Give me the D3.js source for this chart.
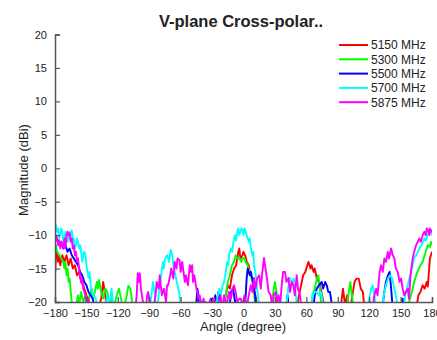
<!DOCTYPE html>
<html lang="en">
<head>
  <meta charset="UTF-8">
  <script src="https://d3js.org/d3.v7.min.js"></script>
  <style>
    body { margin: 0; background: #fff; }
    svg { display: block; }
    text { font-family: "Liberation Sans", Arial, sans-serif; fill: #222; }
  </style>
</head>
<body>
<div id="chart"></div>
<script>
  // angle (degree), magnitude (dBi); values under -20 fall off the axis
  const s5150 = [[-180,-16],[-179,-13],[-178,-12.5],[-177,-14],[-176,-13],[-175,-14.5],[-173,-13],[-171,-14],[-169,-13],[-167,-14.5],[-165,-13.5],[-163,-15],[-161,-14.5],[-159,-16],[-157,-15.5],[-155,-17],[-153,-17.5],[-151,-18.5],[-149,-19.5],[-147,-22],[-140,-22],[-136,-19.5],[-134,-17],[-132,-19],[-130,-22],
    [-20,-22],[-17,-19],[-15,-17.5],[-13,-18],[-11,-16],[-9,-15],[-7,-14.5],[-5,-12.5],[-4,-12],[-3,-13.5],[-1,-13],[0,-12.5],[2,-13.2],[3,-14],[5,-14.5],[6,-15.5],[8,-16.4],[10,-18],[12,-19.5],[14,-22],
    [50,-22],[53,-19],[55,-17.5],[57,-16],[59,-15.5],[61,-14.5],[62,-14],[64,-15],[65,-14.5],[67,-15.5],[68,-15],[70,-16.5],[72,-17],[73,-17.5],[75,-19],[77,-20.5],[80,-22],
    [92,-22],[95,-18],[97,-20.5],[99,-19],[101,-22],[104,-19],[106,-17],[108,-16.5],[110,-16.5],[112,-18],[114,-18.5],[116,-22],
    [160,-22],[165,-21],[167,-19],[169,-18.5],[171,-17.5],[173,-18],[175,-17],[176,-17.7],[178,-13.5],[180,-12.5]];

  const s5300 = [[-180,-12],[-179,-11.5],[-178,-12.5],[-176,-13],[-174,-13.5],[-172,-14],[-171,-15],[-170,-14],[-169,-16],[-168,-15],[-167,-17],[-166,-16.5],[-165,-18.5],[-164,-20],[-163,-21],[-160,-20.5],[-158,-19],[-157,-20.5],[-155,-18.5],[-153,-20],[-151,-19],[-149,-20.5],[-147,-19],[-145,-18],[-144,-19.5],[-142,-18.5],[-140,-17],[-139,-18],[-138,-16.7],[-136,-18.5],[-134,-19.5],[-132,-18],[-130,-18.5],[-128,-20.5],[-126,-19.5],[-124,-21],[-121,-19],[-119,-18],[-117,-19.5],[-115,-21],[-112,-19.5],[-110,-17.6],[-108,-18],[-106,-20.5],[-104,-22],
    [-20,-22],[-17,-19],[-15,-17],[-13,-16],[-11,-14.5],[-9,-14],[-7.5,-13],[-6,-13.5],[-4,-13.4],[-2,-14],[-1,-13.5],[1,-13.4],[2,-14],[4,-14.5],[5,-15.2],[7,-16],[8.5,-17],[10,-18.5],[12,-22],
    [26,-22],[28,-19],[30,-17],[32,-19],[34,-22],
    [64,-22],[66,-19],[68,-18],[70,-16.5],[71.5,-16],[73,-18],[75,-22],
    [98,-22],[100,-19],[102,-17],[104,-19.5],[106,-22],
    [155,-22],[158,-20],[160,-19],[163,-17],[166,-15.5],[169,-14.5],[171,-14],[173,-13],[175,-12],[176,-11.5],[178,-11.8],[179,-11],[180,-11.5]];

  const s5500 = [[-180,-11],[-178,-10.5],[-176,-11.5],[-174,-11],[-172,-12],[-170,-11.5],[-168,-12.5],[-166,-12],[-164,-13],[-162,-13.5],[-160,-14],[-158,-14.5],[-156,-15.5],[-154,-16],[-152,-17],[-150,-17.5],[-148,-18.5],[-146,-19],[-144,-19.5],[-142,-21],[-138,-22],
    [-46,-22],[-44,-18],[-42,-21],
    [-33,-22],[-31,-19.5],[-29,-21],[-27,-19],[-25,-20.5],[-24,-18.5],[-22,-20],[-20,-22],
    [-14,-22],[-12,-18.5],[-10,-18],[-8,-20],[-6,-22],[1,-22],[3,-16.5],[4,-15],[6,-16],[7,-15.5],[9,-17],[11,-19],[13,-22],
    [40,-22],[42,-19],[44,-22],
    [66,-22],[68,-19],[70,-18],[72,-17.5],[74.7,-17],[76,-18],[78,-17],[79.5,-17.5],[81,-18.5],[82.6,-18.5],[84,-20],[86,-22],
    [132,-22],[134,-19],[136,-17],[138,-16],[139.5,-15.5],[141,-18],[143,-22],
    [150,-22],[152,-19.5],[154,-22],[180,-22]];

  const s5700 = [[-180,-9],[-179,-8.5],[-178,-9.5],[-177,-9],[-176,-10.5],[-175,-10],[-174,-9],[-173,-9.5],[-172,-11],[-171,-10.5],[-170,-9.5],[-169,-10],[-168,-11],[-167,-10.5],[-166,-9.5],[-165,-10],[-164,-9.3],[-163,-11],[-162,-10.5],[-161,-12],[-160,-11.5],[-159,-10.5],[-158,-11],[-157,-12],[-156,-11.5],[-155,-12.5],[-154,-14],[-153,-13],[-152,-12.5],[-151,-13],[-150,-14.5],[-149,-15.5],[-148,-16.4],[-147,-15.5],[-146,-17.5],[-144.7,-18.5],[-143,-19],[-141,-19.5],[-139,-21],[-134,-22],[-130,-19],[-128,-20.5],[-126,-18],[-124,-21],[-118,-22],
    [-90,-22],[-88,-19],[-86.4,-17],[-85,-18.5],[-83,-22],[-81,-19],[-79,-16.5],[-77,-14],[-76,-15],[-75,-13.5],[-73,-13],[-71,-14],[-69.5,-12.2],[-68,-13],[-67,-14.5],[-65,-16],[-63,-17.5],[-61,-19],[-59,-22],
    [-27,-22],[-25,-19.5],[-23,-18],[-21.7,-19],[-20,-17.5],[-18.6,-17],[-17,-15.5],[-15.5,-14],[-14.5,-14.5],[-13.8,-13],[-12,-12],[-11,-12.5],[-10,-11.5],[-9,-10.5],[-8,-10],[-7,-10.8],[-6,-9.5],[-5,-9],[-4,-10],[-3,-9.5],[-2,-9],[-1,-9.2],[0,-10],[1,-9],[2,-9.4],[3,-10],[4,-10.5],[5.3,-11],[6,-10.5],[7,-12],[8.5,-13],[9.3,-12.5],[10,-14.5],[11.7,-16],[13,-18],[15,-20.5],[17,-22],
    [40,-22],[42,-19],[44,-16.4],[46,-17],[48,-16.5],[50,-19],[52,-22],
    [64,-22],[66,-19],[68,-18.5],[70,-18.5],[72,-19],[74,-18.5],[76,-20.5],[78,-22],
    [118,-22],[120,-19.5],[122,-18],[123.5,-17.5],[125,-19],[127,-22],[132,-22],[134,-19],[136,-17.5],[138,-16.5],[140,-16],[142,-16.5],[144,-18],[146,-19.5],[148,-22],
    [152,-22],[154,-19.5],[156,-18],[158.5,-16.4],[160,-15.5],[161.5,-14.5],[163,-13.4],[165,-13],[166.5,-12.5],[168,-12],[170,-11.5],[171.5,-11],[172.7,-10.5],[174,-10.8],[175.5,-10],[177.5,-9.5],[179,-9.5],[180,-10]];

  const s5875 = [[-180,-11],[-179,-10],[-178,-10.5],[-177,-11.5],[-176,-10.8],[-175,-12],[-174,-11],[-173,-11.5],[-172,-12],[-171,-10.5],[-170,-12],[-169,-10],[-168,-9.5],[-167,-10],[-166,-9.7],[-165,-11],[-164,-10.5],[-163,-12],[-162,-11.5],[-161,-13],[-160,-12.5],[-159,-14],[-158,-13.5],[-157,-15],[-156,-16],[-155,-17],[-154,-16.5],[-153,-18],[-152,-18.5],[-151,-19],[-150,-20],[-148,-19.5],[-146,-21],[-142,-22],
    [-104,-22],[-102,-19],[-101,-15.7],[-100,-17],[-99,-15.7],[-98,-18],[-96,-20],[-94,-22],[-92,-19],[-91,-18.5],[-89,-21],[-87,-22],[-84,-19],[-82.9,-17],[-81,-18],[-80,-16],[-78,-19],[-76,-18],[-74,-20],[-73,-17.5],[-72,-17.5],[-70,-16],[-69,-15],[-67,-16.5],[-65.7,-14],[-64,-15],[-63,-13.5],[-61,-13.8],[-60,-15.5],[-58.5,-14],[-57.7,-15],[-56,-17],[-55,-16],[-53,-17.5],[-51.3,-14.5],[-50,-15.5],[-49,-14.5],[-48.2,-17],[-47,-16],[-45,-18],[-43,-19.5],[-41.8,-19],[-40,-20.5],[-38,-19.5],[-37,-21],[-36,-20],[-34,-21],[-32,-19.7],[-30,-20.5],[-28,-19.5],[-26,-21],
    [-24,-22],[-22,-19],[-20,-21],[-18.6,-19],[-16,-20.5],[-14,-18.5],[-12,-19.5],[-10.5,-18],[-9,-17.5],[-7.5,-18.5],[-6,-20],[-4,-19.5],[-2.6,-19.5],[-1,-20.5],[1,-19],[3,-21],[5,-19],[7,-17.5],[8.5,-18.5],[10,-16.4],[11.5,-18],[13,-16.5],[15,-16],[16.5,-18],[18,-15.5],[19.6,-13.4],[21,-15],[22.8,-17],[24,-18.5],[26,-19],[27.5,-21],[29,-19],[30.8,-18.5],[32,-20],[33.5,-19],[35,-20.5],[36.5,-17.5],[37.8,-15.5],[39.6,-15.5],[41,-17],[42.9,-16.4],[44.5,-18.5],[46,-17],[47.6,-17.5],[49,-19],[50.8,-16],[52,-18],[54,-19],[55.5,-21],[57,-22],
    [118,-22],[121,-20],[123,-21],[125,-19],[126.6,-18],[128,-19],[130,-15.5],[131.4,-14.5],[133,-15.5],[134.5,-13.5],[136,-14],[137.8,-12.5],[139,-13.5],[141,-12],[142.5,-13],[144,-13.4],[145.5,-15],[147.3,-15.5],[149,-17],[150.5,-16.5],[152,-18],[153.5,-19],[155,-18.5],[156.9,-18],[158,-19.5],[159.5,-16],[161.6,-13.4],[163,-12.5],[164.8,-11.5],[166.5,-11],[168,-10.5],[169.5,-11],[171,-10],[172.7,-9.5],[174,-10],[175,-9],[176,-9.2],[177.5,-10],[178,-9],[179,-9.5],[180,-9.2]];

  const seriesNames = ['5150 MHz', '5300 MHz', '5500 MHz', '5700 MHz', '5875 MHz'];
  const seriesData = [s5150, s5300, s5500, s5700, s5875];
  const seriesColors = ['#ff0000', '#00ff00', '#0000ff', '#00ffff', '#ff00ff'];
  const xTicks = [-180, -150, -120, -90, -60, -30, 0, 30, 60, 90, 120, 150, 180];
  const yTicks = [-20, -15, -10, -5, 0, 5, 10, 15, 20];

  const width = 437, height = 340;
  const mLeft = 55, mRight = 432, mTop = 34.5, mBottom = 302;

  const svg = d3.select('#chart').append('svg')
    .attr('width', width).attr('height', height);

  const x = d3.scaleLinear().domain([-180, 180]).range([mLeft, mRight]);
  const y = d3.scaleLinear().domain([-20, 20]).range([mBottom, mTop]);

  svg.append('clipPath').attr('id', 'plot')
    .append('rect').attr('x', mLeft).attr('y', mTop)
    .attr('width', mRight - mLeft).attr('height', mBottom - mTop);

  const line = d3.line().x(d => x(d[0])).y(d => y(d[1]));

  svg.append('g').attr('clip-path', 'url(#plot)')
    .selectAll('path')
    .data(seriesData)
    .enter().append('path')
    .attr('d', line)
    .attr('fill', 'none')
    .attr('stroke', (d, i) => seriesColors[i])
    .attr('stroke-width', 1.9)
    .attr('stroke-linejoin', 'round');

  // axes: ticks point inward, no box
  const yAxis = svg.append('g').attr('transform', `translate(${mLeft},0)`)
    .call(d3.axisLeft(y).tickValues(yTicks).tickSize(-5).tickPadding(8));
  const xAxis = svg.append('g').attr('transform', `translate(0,${mBottom})`)
    .call(d3.axisBottom(x).tickValues(xTicks).tickSize(-5).tickPadding(7));

  [xAxis, yAxis].forEach(a => {
    a.select('.domain').attr('stroke', '#555').attr('stroke-width', 1.5);
    a.selectAll('.tick line').attr('stroke', '#555').attr('stroke-width', 1.2);
    a.selectAll('.tick text').style('font-size', '11px')
      .style('font-family', '"Liberation Sans", Arial, sans-serif').attr('fill', '#222');
  });

  svg.append('text')
    .attr('x', 241).attr('y', 27)
    .attr('text-anchor', 'middle')
    .style('font-size', '16.5px').style('font-weight', 'bold')
    .text('V-plane Cross-polar..');

  svg.append('text')
    .attr('x', 243).attr('y', 331)
    .attr('text-anchor', 'middle')
    .style('font-size', '13px')
    .text('Angle (degree)');

  svg.append('text')
    .attr('transform', 'translate(28,170) rotate(-90)')
    .attr('text-anchor', 'middle')
    .style('font-size', '13px')
    .text('Magnitude (dBi)');

  const legend = svg.append('g')
    .selectAll('g')
    .data(seriesNames)
    .enter().append('g')
    .attr('transform', (d, i) => `translate(0,${45 + i * 14.3})`);

  legend.append('line')
    .attr('x1', 339).attr('x2', 368)
    .attr('stroke', (d, i) => seriesColors[i])
    .attr('stroke-width', 2);

  legend.append('text')
    .attr('x', 371).attr('y', 4.3)
    .style('font-size', '12px')
    .text(d => d);
</script>
</body>
</html>
